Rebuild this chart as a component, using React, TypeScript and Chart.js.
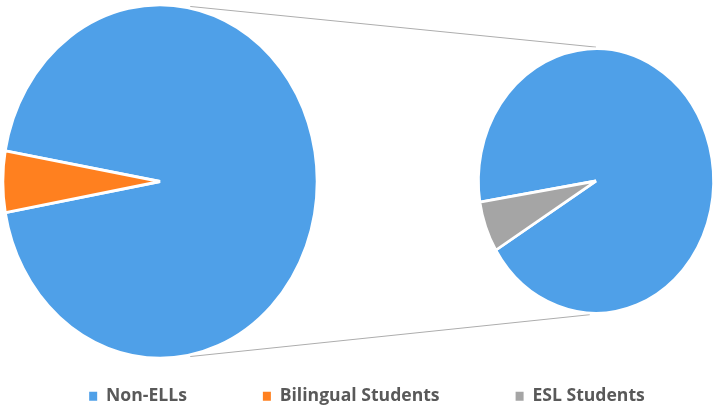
import React, { useEffect, useRef } from "react";
import { Chart, registerables } from "chart.js";

Chart.register(...registerables);

// ---- data ----
const categories = ["Non-ELLs", "Bilingual Students", "ESL Students"];
const primaryValues = [94.4, 5.6, 0];
const secondaryValues = [93.8, 0, 6.2];
const sliceColors = ["#4FA0E8", "#FF801F", "#A5A5A5"];

// ---- layout / style ----
const STRETCH_Y = 1.125;
const PRIMARY_ROTATION = -80;
const SECONDARY_ROTATION = -99.2;
const LEFT_CENTER = { x: 160, y: 181.5 };
const LEFT_RADIUS = 157;
const RIGHT_RADIUS = 117.5;
const RIGHT_BOX = { left: 466, top: 41, width: 260, height: 280 };
const CONNECTOR_LEFT_DEG = 79;
const CONNECTOR_RIGHT_TOP_DEG = -90;
const CONNECTOR_RIGHT_BOTTOM_DEG = 93;

const stretchPlugin = {
  id: "stretchPie",
  beforeDatasetsDraw(chart: any) {
    const arc = chart.getDatasetMeta(0).data[0];
    if (!arc) return;
    const ctx = chart.ctx;
    ctx.save();
    ctx.translate(arc.x, arc.y);
    ctx.scale(1, STRETCH_Y);
    ctx.translate(-arc.x, -arc.y);
  },
  afterDatasetsDraw(chart: any) {
    chart.ctx.restore();
  },
};

function legendLabels(chart: any) {
  const base = (Chart as any).overrides.doughnut.plugins.legend.labels.generateLabels(chart);
  return base.map((l: any) => ({ ...l, lineWidth: 0, strokeStyle: "rgba(0,0,0,0)" }));
}

export default function App() {
  const leftRef = useRef<HTMLCanvasElement>(null);
  const rightRef = useRef<HTMLCanvasElement>(null);

  useEffect(() => {
    if (!leftRef.current || !rightRef.current) return;

    const right = new Chart(rightRef.current, {
      type: "pie",
      data: {
        labels: categories,
        datasets: [
          {
            data: secondaryValues,
            backgroundColor: sliceColors,
            borderColor: "#ffffff",
            borderWidth: 2.5,
            clip: false,
          } as any,
        ],
      },
      options: {
        responsive: false,
        animation: false,
        rotation: SECONDARY_ROTATION,
        radius: RIGHT_RADIUS,
        layout: { padding: 0 },
        events: [],
        plugins: { legend: { display: false }, tooltip: { enabled: false } },
      } as any,
      plugins: [stretchPlugin],
    });

    const placeArea = {
      id: "placeArea",
      afterLayout(chart: any) {
        const r = LEFT_RADIUS;
        chart.chartArea = {
          left: LEFT_CENTER.x - r,
          right: LEFT_CENTER.x + r,
          top: LEFT_CENTER.y - r,
          bottom: LEFT_CENTER.y + r,
          width: 2 * r,
          height: 2 * r,
        };
      },
    };

    const connectors = {
      id: "connectors",
      afterDraw(chart: any) {
        const la = chart.getDatasetMeta(0).data[0];
        const ra = right.getDatasetMeta(0).data[0] as any;
        if (!la || !ra) return;
        const lR = la.outerRadius + 1.5;
        const rR = ra.outerRadius + 1.5;
        const rx = ra.x + RIGHT_BOX.left;
        const ry = ra.y + RIGHT_BOX.top;
        const d = Math.PI / 180;
        const pt = (cx: number, cy: number, R: number, deg: number) => [
          cx + R * Math.cos(deg * d),
          cy + R * STRETCH_Y * Math.sin(deg * d),
        ];
        const p1 = pt(la.x, la.y, lR, -CONNECTOR_LEFT_DEG);
        const p2 = pt(rx, ry, rR, CONNECTOR_RIGHT_TOP_DEG);
        const p3 = pt(la.x, la.y, lR, CONNECTOR_LEFT_DEG);
        const p4 = pt(rx, ry, rR, CONNECTOR_RIGHT_BOTTOM_DEG);
        const ctx = chart.ctx;
        ctx.save();
        ctx.strokeStyle = "#ADADAD";
        ctx.lineWidth = 1;
        ctx.beginPath();
        ctx.moveTo(p1[0], p1[1]);
        ctx.lineTo(p2[0], p2[1]);
        ctx.moveTo(p3[0], p3[1]);
        ctx.lineTo(p4[0], p4[1]);
        ctx.stroke();
        ctx.restore();
      },
    };

    const left = new Chart(leftRef.current, {
      type: "pie",
      data: {
        labels: categories,
        datasets: [
          {
            data: primaryValues,
            backgroundColor: sliceColors,
            borderColor: "#ffffff",
            borderWidth: 2.5,
            clip: false,
          } as any,
        ],
      },
      options: {
        responsive: false,
        animation: false,
        rotation: PRIMARY_ROTATION,
        radius: LEFT_RADIUS,
        events: [],
        layout: { padding: { left: 0, right: -20, top: 0, bottom: 0 } },
        plugins: {
          tooltip: { enabled: false },
          legend: {
            position: "bottom",
            labels: {
              boxWidth: 8,
              boxHeight: 9,
              padding: 76,
              color: "#595959",
              font: { family: "'Open Sans', sans-serif", size: 17.6, weight: "bold" },
              generateLabels: legendLabels,
            },
          },
        },
      } as any,
      plugins: [placeArea, connectors, stretchPlugin],
    });

    return () => {
      left.destroy();
      right.destroy();
    };
  }, []);

  return (
    <div
      style={{
        position: "absolute",
        left: 0,
        top: 0,
        width: 714,
        height: 409,
        overflow: "hidden",
        background: "#ffffff",
      }}
    >
      <canvas
        ref={leftRef}
        width={714}
        height={415}
        style={{ position: "absolute", left: 0, top: 0 }}
      />
      <canvas
        ref={rightRef}
        width={RIGHT_BOX.width}
        height={RIGHT_BOX.height}
        style={{ position: "absolute", left: RIGHT_BOX.left, top: RIGHT_BOX.top }}
      />
    </div>
  );
}
